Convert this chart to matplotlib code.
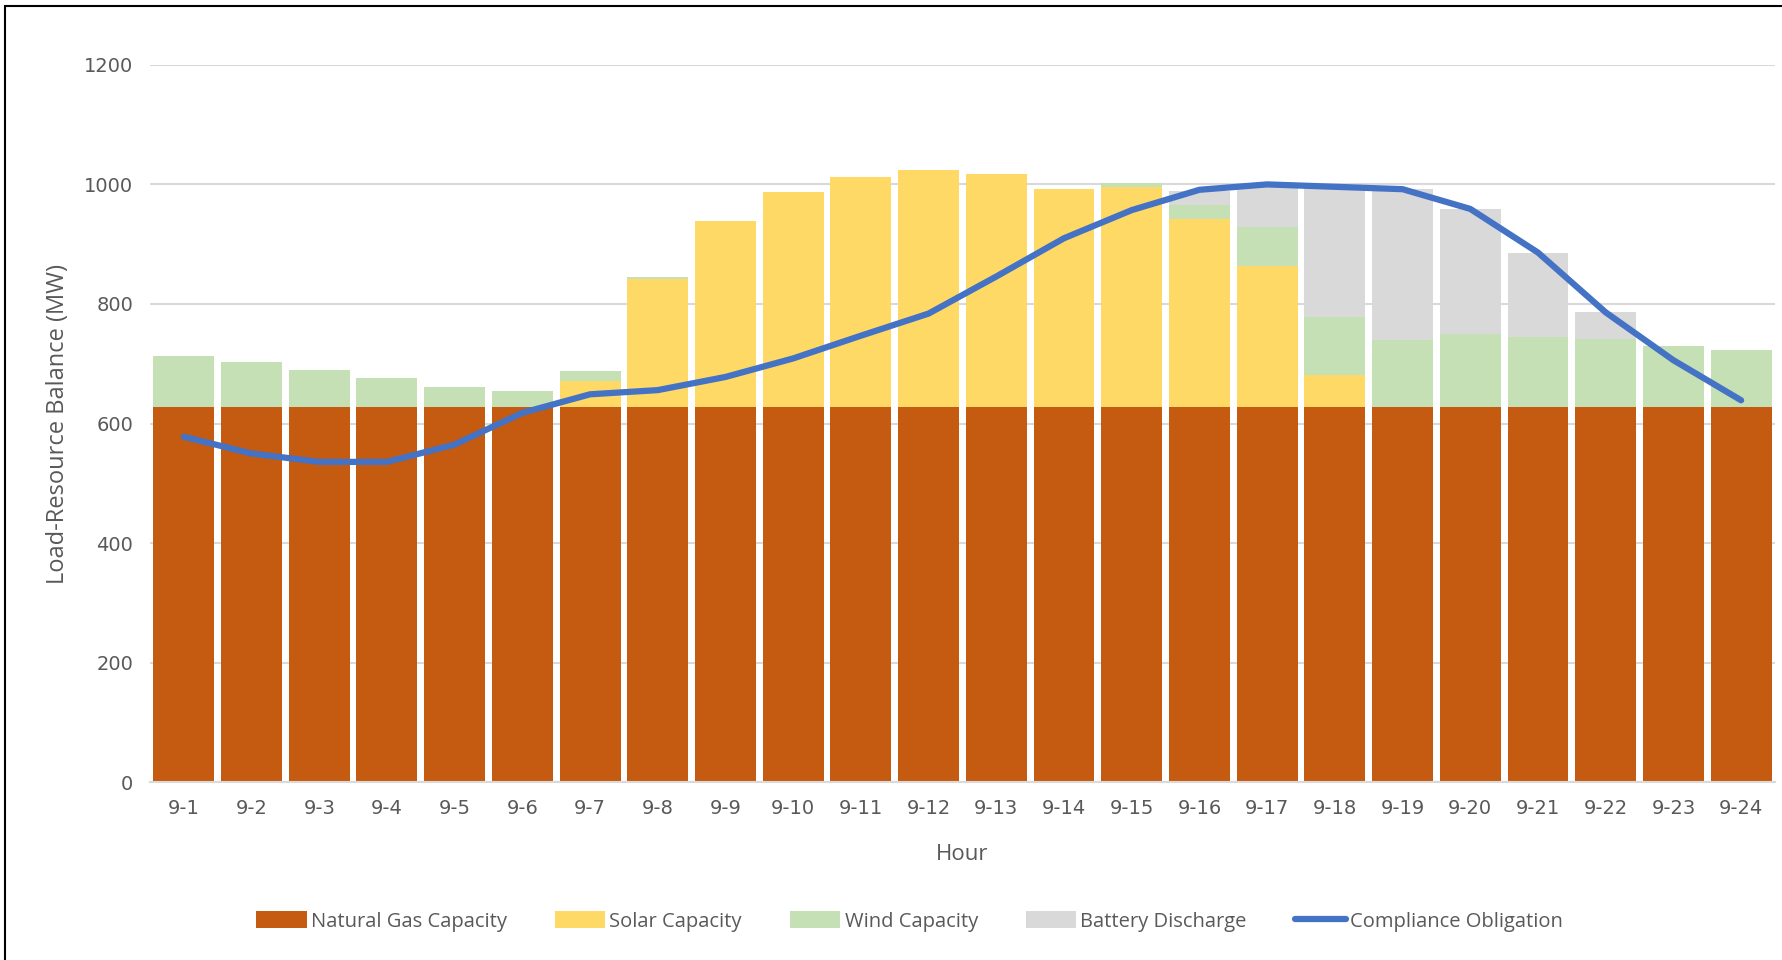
import numpy as np
import matplotlib.pyplot as plt
from matplotlib.patches import Rectangle

hours = ["9-" + str(h) for h in range(1, 25)]
gas = [627] * 24
solar = [0, 0, 0, 0, 0, 0, 45, 214, 312, 360, 385, 397,
         390, 365, 369, 315, 236, 55, 0, 0, 0, 0, 0, 0]
wind = [86, 76, 63, 49, 34, 28, 16, 4, 0, 0, 0, 0,
        0, 0, 6, 23, 66, 96, 113, 123, 118, 115, 103, 96]
battery = [0, 0, 0, 0, 0, 0, 0, 0, 0, 0, 0, 0,
           0, 0, 0, 24, 71, 218, 252, 209, 140, 45, 0, 0]
obligation = [578, 550, 536, 536, 565, 618, 649, 656, 678, 709, 747, 784,
              846, 910, 957, 991, 1000, 996, 992, 959, 886, 786, 706, 639]

c_gas = "#C55A11"
c_solar = "#FFD966"
c_wind = "#C5E0B4"
c_batt = "#D9D9D9"
c_line = "#4472C4"
txt = "#595959"

fig = plt.figure(figsize=(17.83, 9.6), dpi=100)
ax = fig.add_axes([0.0841, 0.185, 0.9114, 0.7475])

x = np.arange(len(hours))
w = 0.9
gas = np.array(gas)
solar = np.array(solar)
wind = np.array(wind)
battery = np.array(battery)

b1 = ax.bar(x, gas, w, color=c_gas, zorder=2, label="Natural Gas Capacity")
b2 = ax.bar(x, solar, w, bottom=gas, color=c_solar, zorder=2, label="Solar Capacity")
b3 = ax.bar(x, wind, w, bottom=gas + solar, color=c_wind, zorder=2, label="Wind Capacity")
b4 = ax.bar(x, battery, w, bottom=gas + solar + wind, color=c_batt, zorder=2,
            label="Battery Discharge")
ln, = ax.plot(x, obligation, color=c_line, lw=4.5, zorder=3, solid_capstyle="round",
              label="Compliance Obligation")

ax.set_xlim(-0.5, len(hours) - 0.5)
ax.set_ylim(0, 1200)
ax.set_yticks(range(0, 1201, 200))
ax.set_xticks(x)
ax.set_xticklabels(hours)
ax.grid(axis="y", color="#D9D9D9", lw=1.5, zorder=0)
ax.tick_params(length=0, labelsize=14, colors=txt, pad=12)
for s in ["top", "right", "left"]:
    ax.spines[s].set_visible(False)
ax.spines["bottom"].set_color("#D9D9D9")
ax.spines["bottom"].set_linewidth(1.5)

ax.set_xlabel("Hour", fontsize=16, color=txt, family="Open Sans", labelpad=19)
ax.set_ylabel("Load-Resource Balance (MW)", fontsize=17, color=txt,
              family="Open Sans", labelpad=10)

fig.legend([b1, b2, b3, b4, ln],
           ["Natural Gas Capacity", "Solar Capacity", "Wind Capacity",
            "Battery Discharge", "Compliance Obligation"],
           loc="center", bbox_to_anchor=(0.51, 0.04), ncol=5,
           frameon=False, prop={"family": "Open Sans", "size": 14.5},
           labelcolor=txt, handlelength=2.5, handleheight=0.9,
           handletextpad=0.2, columnspacing=2.4)

# outer chart border
fig.add_artist(Rectangle((0.003, -0.01), 1.1, 1.004, transform=fig.transFigure,
                         fill=False, edgecolor="black", lw=1.5))

fig.savefig("out.png", dpi=100)
